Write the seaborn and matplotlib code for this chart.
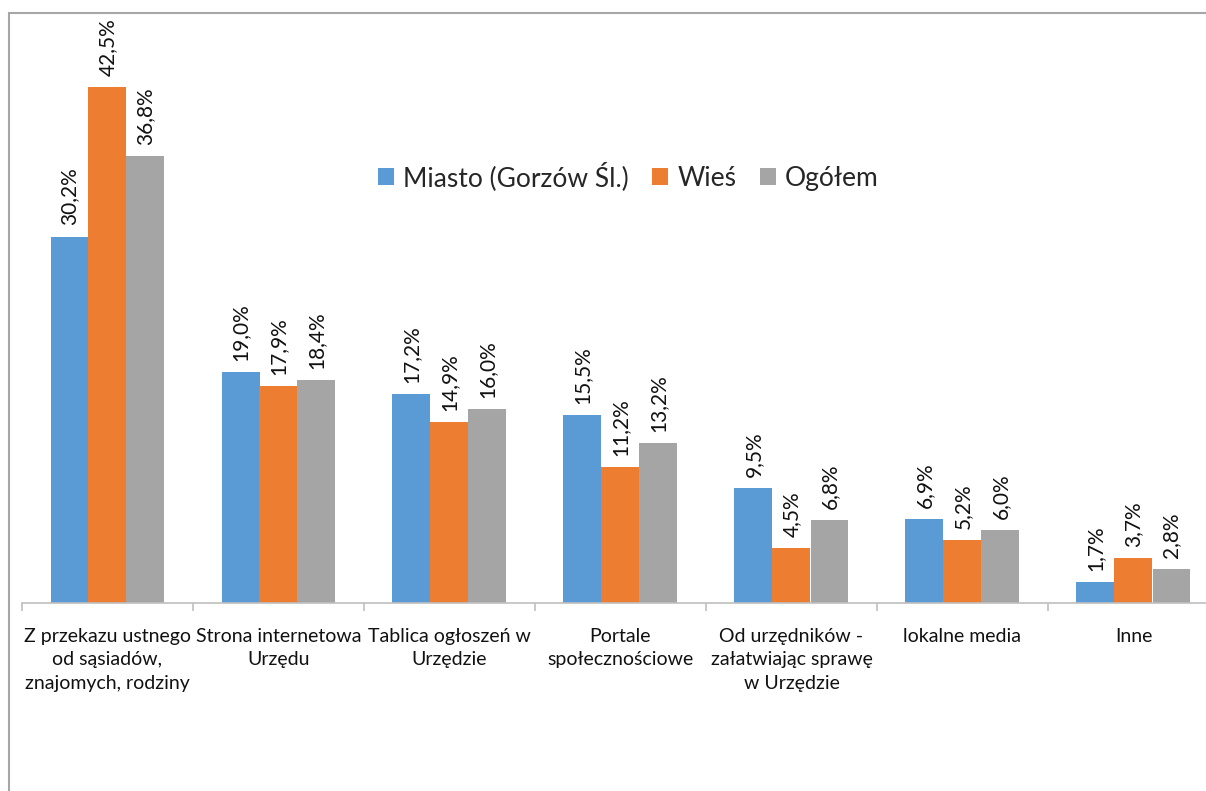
import pandas as pd
import matplotlib.pyplot as plt
import seaborn as sns
from matplotlib.lines import Line2D

categories = [
    "Z przekazu ustnego\nod sąsiadów,\nznajomych, rodziny",
    "Strona internetowa\nUrzędu",
    "Tablica ogłoszeń w\nUrzędzie",
    "Portale\nspołecznościowe",
    "Od urzędników -\nzałatwiając sprawę\nw Urzędzie",
    "lokalne media",
    "Inne",
]
series = ["Miasto (Gorzów Śl.)", "Wieś", "Ogółem"]
miasto = [30.2, 19.0, 17.2, 15.5, 9.5, 6.9, 1.7]
wies = [42.5, 17.9, 14.9, 11.2, 4.5, 5.2, 3.7]
ogolem = [36.8, 18.4, 16.0, 13.2, 6.8, 6.0, 2.8]
colors = ["#5B9BD5", "#ED7D31", "#A5A5A5"]

df = pd.DataFrame({
    "Kategoria": categories * 3,
    "Grupa": [s for s in series for _ in categories],
    "Wartosc": miasto + wies + ogolem,
})

sns.set_style("white")
plt.rcParams["font.family"] = ["Lato", "DejaVu Sans"]

fig = plt.figure(figsize=(12.06, 7.91), dpi=100)
ax = fig.add_axes([22 / 1206, 188 / 791, 1197 / 1206, 546 / 791])

sns.barplot(
    data=df, x="Kategoria", y="Wartosc", hue="Grupa",
    palette=colors, saturation=1, width=2 / 3, gap=0,
    edgecolor="none", linewidth=0, ax=ax,
)

for cont in ax.containers:
    vals = [b.get_height() for b in cont]
    ax.bar_label(cont, labels=[f"{v:.1f}%".replace(".", ",") for v in vals],
                 rotation=90, padding=8, fontsize=15, color="#111111")

ax.set_xlim(-0.5, 6.5)
ax.set_ylim(0, 45)
ax.set_xlabel("")
ax.set_ylabel("")
ax.set_yticks([])
ax.set_xticks(range(len(categories)))
ax.set_xticklabels(categories, fontsize=14, color="#111111", linespacing=1.45)
ax.set_xticks([i - 0.5 for i in range(len(categories) + 1)], minor=True)
ax.tick_params(axis="x", which="major", length=0, pad=18)
ax.tick_params(axis="x", which="minor", length=6, color="#BFBFBF", width=1.2, direction="out", bottom=True)
for side in ["top", "right", "left"]:
    ax.spines[side].set_visible(False)
ax.spines["bottom"].set_color("#BFBFBF")
ax.spines["bottom"].set_linewidth(1.2)

ax.legend(
    loc="center", bbox_to_anchor=(0.521, 0.777), bbox_transform=fig.transFigure,
    ncol=3, frameon=False, fontsize=19, handlelength=0.6, handleheight=0.6,
    handletextpad=0.35, columnspacing=0.9,
)

# outer chart frame (left and top edges visible)
fig.add_artist(Line2D([8.5 / 1206, 8.5 / 1206], [0, 1 - 13 / 791], transform=fig.transFigure, color="#A6A6A6", lw=1.5))
fig.add_artist(Line2D([8.5 / 1206, 1], [1 - 13 / 791, 1 - 13 / 791], transform=fig.transFigure, color="#A6A6A6", lw=1.5))

fig.savefig("out.png", dpi=100, facecolor="white")
